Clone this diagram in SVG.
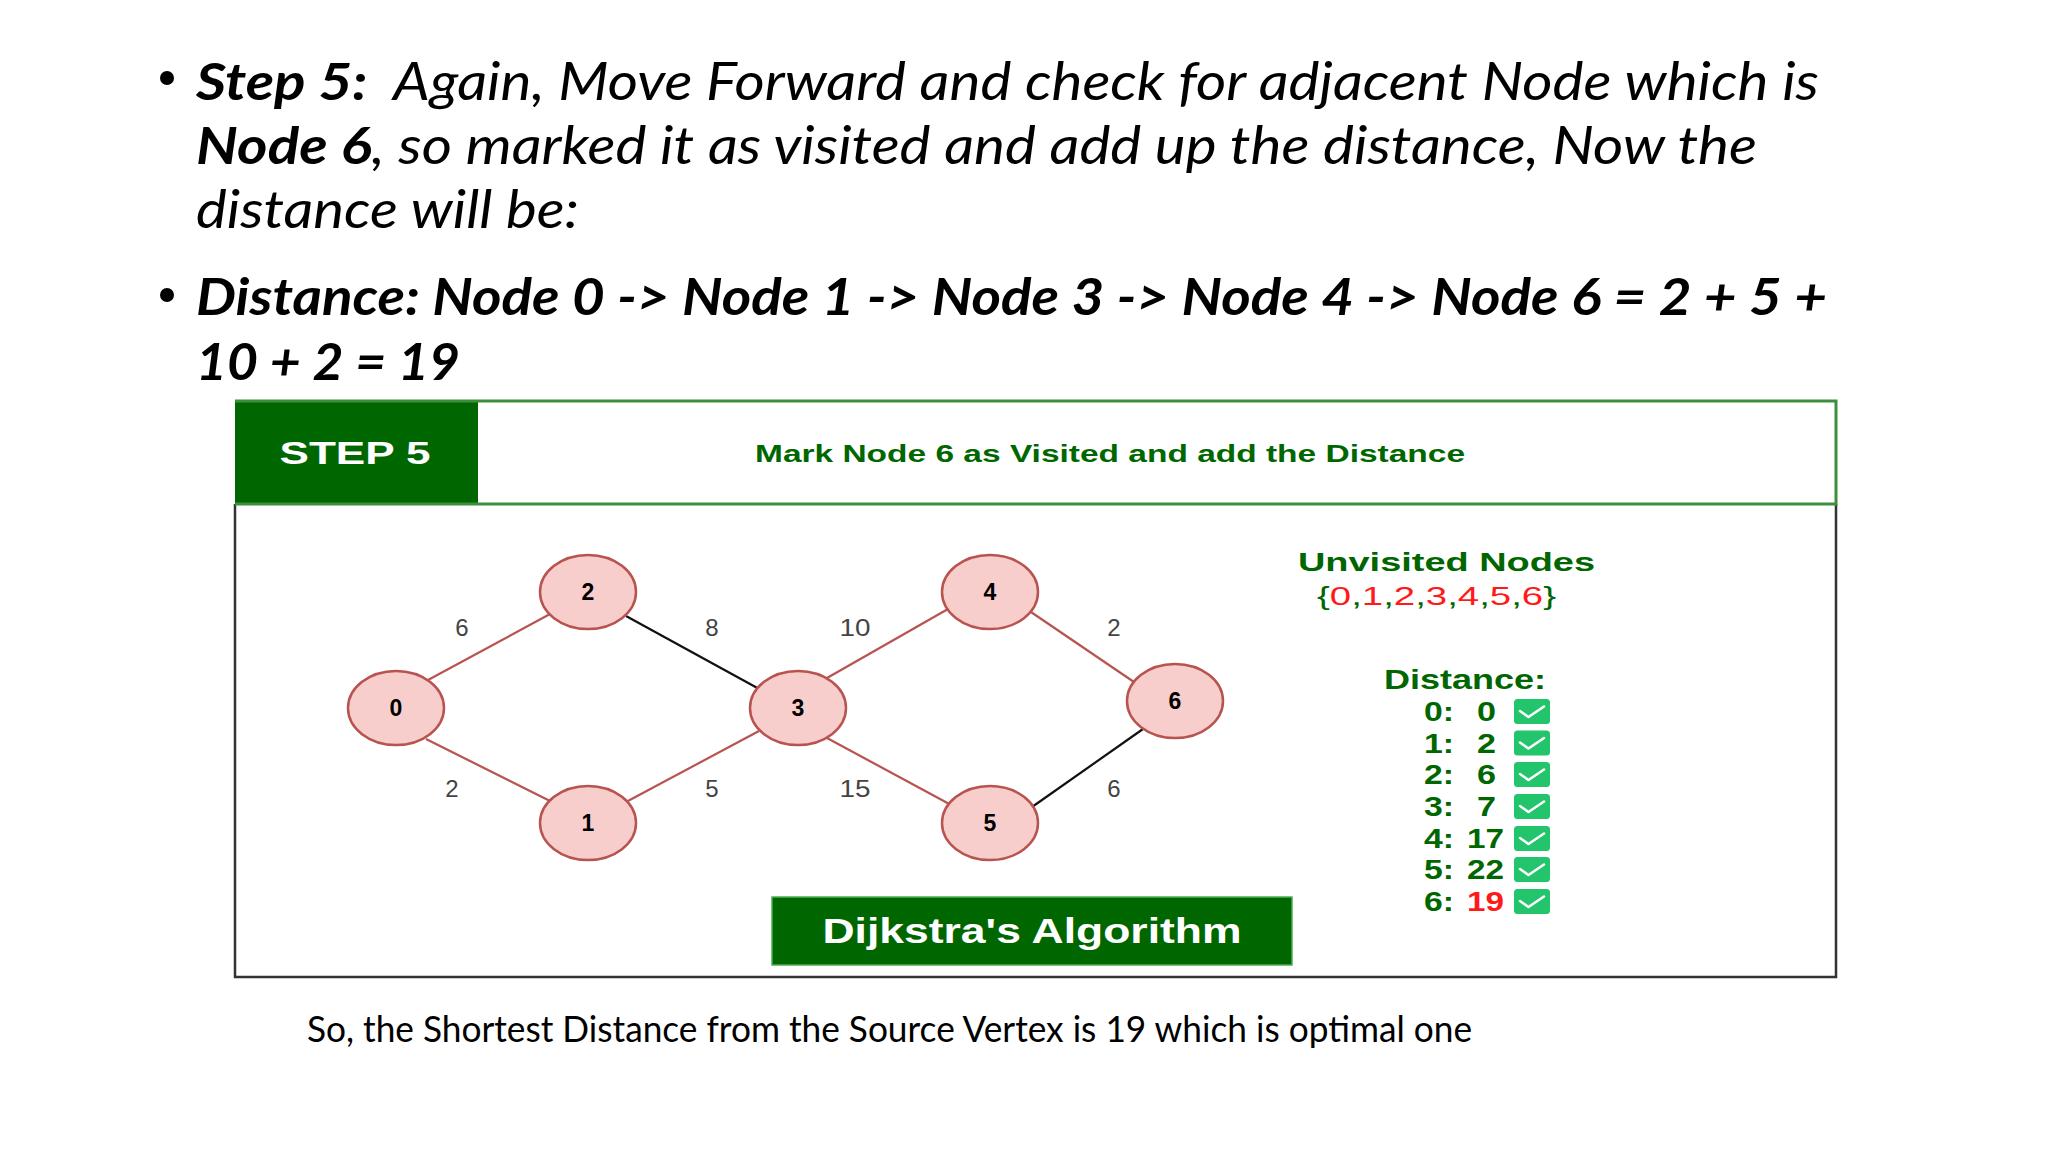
<svg xmlns="http://www.w3.org/2000/svg" width="2048" height="1152" viewBox="0 0 2048 1152">
<style>
.bul{font-family:Lato,"Open Sans",sans-serif;font-style:italic;font-size:52px;fill:#000;white-space:pre}
.b{font-weight:bold}
.cap{font-family:Lato,"Open Sans",sans-serif;font-size:36px;fill:#000}
.ar{font-family:"Liberation Sans",Arial,sans-serif}
.arb{font-family:"Liberation Sans",Arial,sans-serif;font-weight:bold}
.node ellipse{fill:#f8cecc;stroke:#b85450;stroke-width:2.5}
.node text{font-family:"Liberation Sans",Arial,sans-serif;font-weight:bold;font-size:23px;fill:#000;text-anchor:middle}
.edge{stroke-width:2.2}
.pk{stroke:#b85450}
.bk{stroke:#111}
.el{font-family:"Liberation Sans",Arial,sans-serif;font-size:24px;fill:#444;text-anchor:middle}
.row{font-family:"Liberation Sans",Arial,sans-serif;font-weight:bold;font-size:27px;fill:#006600}
.grn{fill:#006600}
.red{fill:#ff1a1a}
</style>
<defs>
<g id="check"><rect x="0" y="0" width="36" height="25" rx="3.5" fill="#22c46c"/><path d="M6,12 L14.5,18 L30,7.5" fill="none" stroke="#fff" stroke-width="2.6" stroke-linecap="round" stroke-linejoin="round"/></g>
</defs>
<rect width="2048" height="1152" fill="#fff"/>

<g id="bullets">
<circle cx="167" cy="78" r="7" fill="#000"/>
<text class="bul" x="196" y="100" textLength="1623" lengthAdjust="spacingAndGlyphs"><tspan class="b">Step 5:</tspan>  Again, Move Forward and check for adjacent Node which is</text>
<text class="bul" x="196" y="164" textLength="1561" lengthAdjust="spacingAndGlyphs"><tspan class="b">Node 6</tspan>, so marked it as visited and add up the distance, Now the</text>
<text class="bul" x="196" y="228" textLength="383" lengthAdjust="spacingAndGlyphs">distance will be:</text>
<circle cx="167" cy="295" r="7" fill="#000"/>
<text class="bul b" x="196" y="315" textLength="1631" lengthAdjust="spacingAndGlyphs">Distance: Node 0 -&gt; Node 1 -&gt; Node 3 -&gt; Node 4 -&gt; Node 6 = 2 + 5 +</text>
<text class="bul b" x="196" y="380" textLength="264" lengthAdjust="spacingAndGlyphs">10 + 2 = 19</text>
</g>

<g id="frame">
<rect x="235" y="401" width="243" height="103" fill="#006600"/>
<path d="M235,504 V977 H1836 V504" fill="none" stroke="#333" stroke-width="2.5"/>
<path d="M235,401 H1836 V504 H235" fill="none" stroke="#3d8f3d" stroke-width="3"/>
<text class="arb" x="355" y="464" font-size="32" fill="#fff" text-anchor="middle" textLength="151" lengthAdjust="spacingAndGlyphs">STEP 5</text>
<text class="arb" x="1110" y="462" font-size="23" fill="#006600" text-anchor="middle" textLength="710" lengthAdjust="spacingAndGlyphs">Mark Node 6 as Visited and add the Distance</text>
</g>

<g id="connectors">
<line class="edge pk" x1="428" y1="680" x2="550" y2="614"/>
<line class="edge pk" x1="426" y1="739" x2="552" y2="802"/>
<line class="edge bk" x1="626" y1="616" x2="761" y2="690"/>
<line class="edge pk" x1="626" y1="802" x2="759" y2="731"/>
<line class="edge pk" x1="827" y1="678" x2="948" y2="609"/>
<line class="edge pk" x1="827" y1="738" x2="953" y2="806"/>
<line class="edge pk" x1="1028" y1="610" x2="1134" y2="682"/>
<line class="edge bk" x1="1032" y1="807" x2="1143" y2="729"/>
<text class="el" x="462" y="636">6</text>
<text class="el" x="712" y="636">8</text>
<text class="el" x="855" y="636" textLength="31" lengthAdjust="spacingAndGlyphs">10</text>
<text class="el" x="1114" y="636">2</text>
<text class="el" x="452" y="797">2</text>
<text class="el" x="712" y="797">5</text>
<text class="el" x="855" y="797" textLength="31" lengthAdjust="spacingAndGlyphs">15</text>
<text class="el" x="1114" y="797">6</text>
</g>

<g id="node0" class="node"><ellipse cx="396" cy="708" rx="48" ry="37"/><text x="396" y="716">0</text></g>
<g id="node1" class="node"><ellipse cx="588" cy="823" rx="48" ry="37"/><text x="588" y="831">1</text></g>
<g id="node2" class="node"><ellipse cx="588" cy="592" rx="48" ry="37"/><text x="588" y="600">2</text></g>
<g id="node3" class="node"><ellipse cx="798" cy="708" rx="48" ry="37"/><text x="798" y="716">3</text></g>
<g id="node4" class="node"><ellipse cx="990" cy="592" rx="48" ry="37"/><text x="990" y="600">4</text></g>
<g id="node5" class="node"><ellipse cx="990" cy="823" rx="48" ry="37"/><text x="990" y="831">5</text></g>
<g id="node6" class="node"><ellipse cx="1175" cy="701" rx="48" ry="37"/><text x="1175" y="709">6</text></g>

<g id="unvisited">
<text class="arb grn" x="1298" y="571" font-size="26" textLength="297" lengthAdjust="spacingAndGlyphs">Unvisited Nodes</text>
<text class="ar" x="1317" y="605" font-size="25" textLength="239" lengthAdjust="spacingAndGlyphs"><tspan class="grn">{</tspan><tspan class="red">0</tspan><tspan class="grn">,</tspan><tspan class="red">1</tspan><tspan class="grn">,</tspan><tspan class="red">2</tspan><tspan class="grn">,</tspan><tspan class="red">3</tspan><tspan class="grn">,</tspan><tspan class="red">4</tspan><tspan class="grn">,</tspan><tspan class="red">5</tspan><tspan class="grn">,</tspan><tspan class="red">6</tspan><tspan class="grn">}</tspan></text>
</g>

<g id="distance">
<text class="row" x="1384" y="689" textLength="162" lengthAdjust="spacingAndGlyphs">Distance:</text>
<text class="row" x="1424" y="721" textLength="30" lengthAdjust="spacingAndGlyphs">0:</text>
<text class="row" x="1477" y="721" textLength="19" lengthAdjust="spacingAndGlyphs">0</text>
<text class="row" x="1424" y="753" textLength="30" lengthAdjust="spacingAndGlyphs">1:</text>
<text class="row" x="1477" y="753" textLength="19" lengthAdjust="spacingAndGlyphs">2</text>
<text class="row" x="1424" y="784" textLength="30" lengthAdjust="spacingAndGlyphs">2:</text>
<text class="row" x="1477" y="784" textLength="19" lengthAdjust="spacingAndGlyphs">6</text>
<text class="row" x="1424" y="816" textLength="30" lengthAdjust="spacingAndGlyphs">3:</text>
<text class="row" x="1477" y="816" textLength="19" lengthAdjust="spacingAndGlyphs">7</text>
<text class="row" x="1424" y="848" textLength="30" lengthAdjust="spacingAndGlyphs">4:</text>
<text class="row" x="1467" y="848" textLength="37" lengthAdjust="spacingAndGlyphs">17</text>
<text class="row" x="1424" y="879" textLength="30" lengthAdjust="spacingAndGlyphs">5:</text>
<text class="row" x="1467" y="879" textLength="37" lengthAdjust="spacingAndGlyphs">22</text>
<text class="row" x="1424" y="911" textLength="30" lengthAdjust="spacingAndGlyphs">6:</text>
<text class="row red" x="1467" y="911" textLength="37" lengthAdjust="spacingAndGlyphs">19</text>
<use href="#check" x="1514" y="699"/>
<use href="#check" x="1514" y="730.5"/>
<use href="#check" x="1514" y="762"/>
<use href="#check" x="1514" y="794"/>
<use href="#check" x="1514" y="826"/>
<use href="#check" x="1514" y="857"/>
<use href="#check" x="1514" y="889"/>
</g>

<g id="title">
<rect x="772" y="897" width="520" height="68" fill="#006600" stroke="#4caf50" stroke-width="1.5"/>
<text class="arb" x="1032" y="943" font-size="35" fill="#fff" text-anchor="middle" textLength="419" lengthAdjust="spacingAndGlyphs">Dijkstra's Algorithm</text>
</g>

<text class="cap" x="307" y="1042" textLength="1165" lengthAdjust="spacingAndGlyphs">So, the Shortest Distance from the Source Vertex is 19 which is optimal one</text>
</svg>
